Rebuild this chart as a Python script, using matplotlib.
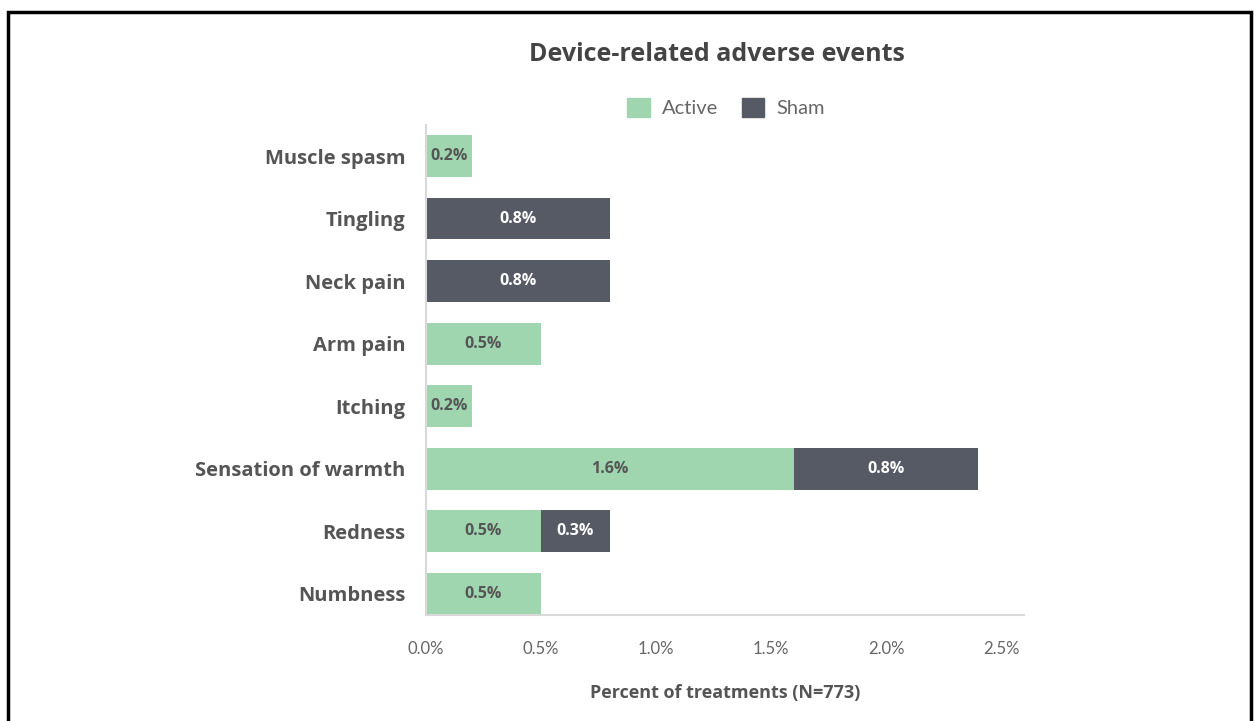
import matplotlib.pyplot as plt
import numpy as np
from matplotlib.patches import Patch, Rectangle

categories = ["Muscle spasm", "Tingling", "Neck pain", "Arm pain", "Itching",
              "Sensation of warmth", "Redness", "Numbness"]
active = [0.2, 0.0, 0.0, 0.5, 0.2, 1.6, 0.5, 0.5]
sham = [0.0, 0.8, 0.8, 0.0, 0.0, 0.8, 0.3, 0.0]
xticks = [0.0, 0.5, 1.0, 1.5, 2.0, 2.5]

green = "#9fd6b0"
slate = "#555a64"
text_gray = "#555555"

plt.rcParams['font.family'] = ['Open Sans', 'DejaVu Sans']

fig = plt.figure(figsize=(12.54, 7.21), dpi=100)
ax = fig.add_axes([0.3397, 0.147, 0.477, 0.68])

y = np.arange(len(categories))
h = 0.67
ax.barh(y, active, height=h, color=green, label="Active")
ax.barh(y, sham, left=active, height=h, color=slate, label="Sham")

for i in range(len(categories)):
    if active[i] > 0:
        ax.text(active[i] / 2, y[i], f"{active[i]:.1f}%", ha="center", va="center",
                fontsize=11.5, fontweight="bold", color=text_gray)
    if sham[i] > 0:
        ax.text(active[i] + sham[i] / 2, y[i], f"{sham[i]:.1f}%", ha="center", va="center",
                fontsize=11.5, fontweight="bold", color="white")

ax.set_ylim(len(categories) - 1 + 0.34, -0.5)
ax.set_xlim(0, 2.6)
ax.set_yticks(y)
ax.set_yticklabels(categories, fontsize=14.5, fontweight="bold", color=text_gray)
ax.set_xticks(xticks)
ax.set_xticklabels([f"{t:.1f}%" for t in xticks], fontsize=12, color="#666666",
                   family=["Lato", "DejaVu Sans"])
ax.tick_params(axis="both", length=0)
ax.tick_params(axis="x", pad=19)
ax.tick_params(axis="y", pad=15)

for s in ["top", "right"]:
    ax.spines[s].set_visible(False)
for s in ["left", "bottom"]:
    ax.spines[s].set_color("#d9d9d9")
    ax.spines[s].set_linewidth(1.5)

ax.set_xlabel("Percent of treatments (N=773)", fontsize=13, fontweight="bold",
              color=text_gray, labelpad=19)

fig.text(0.572, 0.924, "Device-related adverse events", ha="center", va="center",
         fontsize=18, fontweight="bold", color="#444444")

handles = [Patch(color=green, label="Active"), Patch(color=slate, label="Sham")]
leg = fig.legend(handles=handles, loc="center", bbox_to_anchor=(0.579, 0.851), ncol=2,
                 frameon=False, handlelength=1.1, handleheight=1.1,
                 columnspacing=1.2, handletextpad=0.6, prop={"family": ["Lato"], "size": 14.5})
for t in leg.get_texts():
    t.set_color("#666666")

# black frame around the picture
fig.patches.append(Rectangle((0.006, -0.05), 0.992, 1.034, transform=fig.transFigure,
                             fill=False, edgecolor="black", linewidth=2.5))

fig.savefig("out.png", dpi=100)
